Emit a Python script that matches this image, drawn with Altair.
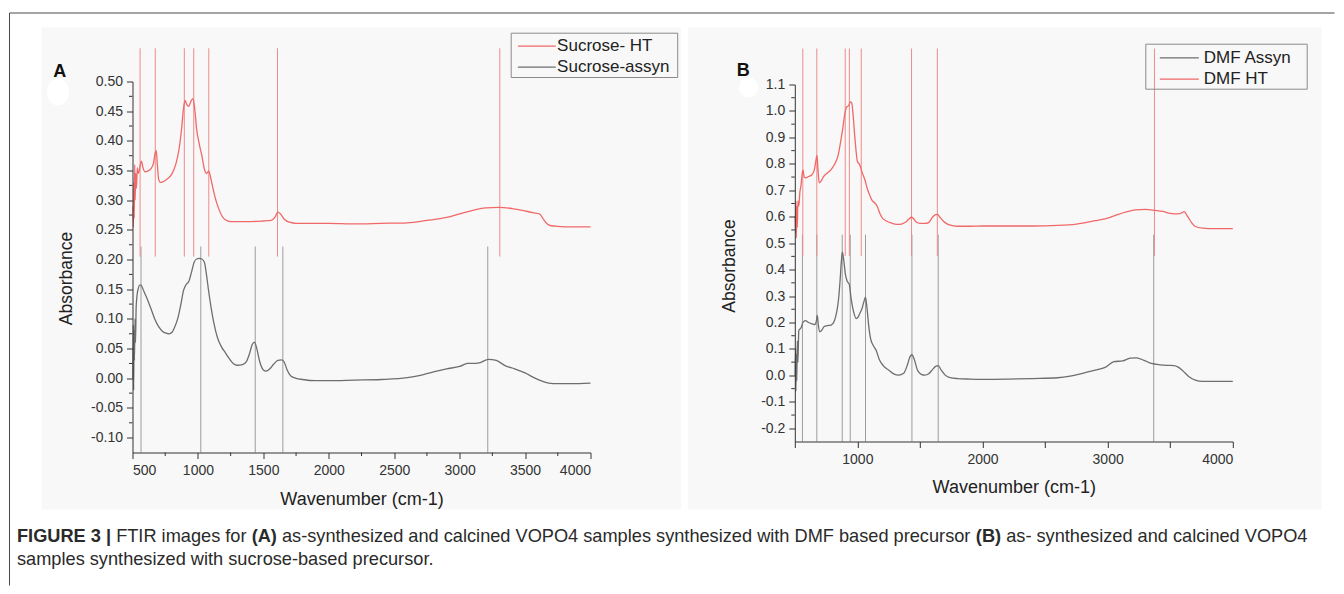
import altair as alt
import pandas as pd

FONT = "Liberation Sans"
RED_LINE = "#f06868"
RED_RULE = "#ef8a8a"
GRAY_LINE = "#6e6e6e"
GRAY_RULE = "#9c9c9c"
AXIS = "#333333"
BG = "#f8f8f8"

# ---------------- Panel A (sucrose) ----------------
a_ht_w = [503, 507, 510, 513, 517, 520, 525, 530, 537, 544, 552, 560, 568, 580, 595, 615, 640, 660, 672, 681,
          690, 700, 712, 730, 760, 800, 830, 855, 875, 890, 902, 915, 930, 945, 962, 975, 990, 1010, 1030, 1050,
          1065, 1083, 1100, 1120, 1140, 1160, 1185, 1210, 1250, 1300, 1400, 1500, 1560, 1590, 1610, 1630, 1660,
          1700, 1750, 1850, 2000, 2200, 2400, 2600, 2750, 2900, 3000, 3100, 3200, 3300, 3400, 3480, 3560, 3610,
          3640, 3670, 3700, 3750, 3850, 4000]
a_ht_y = [0.29, 0.255, 0.33, 0.27, 0.36, 0.30, 0.345, 0.32, 0.355, 0.345, 0.35, 0.36, 0.366, 0.355, 0.348, 0.349,
          0.353, 0.362, 0.378, 0.384, 0.36, 0.335, 0.330, 0.331, 0.335, 0.344, 0.36, 0.385, 0.42, 0.455, 0.468,
          0.461, 0.458, 0.466, 0.471, 0.455, 0.42, 0.395, 0.375, 0.352, 0.345, 0.349, 0.335, 0.315, 0.298, 0.285,
          0.273, 0.267, 0.264, 0.264, 0.264, 0.265, 0.266, 0.272, 0.28, 0.277, 0.268, 0.263, 0.261, 0.261, 0.261,
          0.260, 0.261, 0.262, 0.266, 0.271, 0.277, 0.283, 0.287, 0.288, 0.286, 0.283, 0.279, 0.277, 0.268, 0.26,
          0.257, 0.256, 0.255, 0.255]

a_as_w = [503, 506, 509, 512, 515, 519, 523, 528, 535, 545, 555, 565, 575, 590, 610, 640, 670, 700, 730, 760, 780,
          800, 820, 845, 870, 890, 910, 930, 950, 970, 990, 1010, 1030, 1050, 1065, 1080, 1100, 1120, 1150, 1180,
          1210, 1240, 1270, 1300, 1340, 1370, 1395, 1415, 1432, 1450, 1470, 1500, 1520, 1550, 1580, 1610, 1640,
          1660, 1680, 1710, 1750, 1800, 1900, 2000, 2200, 2400, 2600, 2700, 2800, 2900, 3000, 3060, 3100, 3150,
          3220, 3280, 3350, 3420, 3500, 3560, 3620, 3680, 3750, 3850, 4000]
a_as_y = [0.0, 0.09, -0.02, 0.08, 0.03, 0.1, 0.06, 0.12, 0.14, 0.152, 0.157, 0.157, 0.153, 0.145, 0.135, 0.118, 0.1,
          0.087, 0.079, 0.076, 0.075, 0.077, 0.085, 0.10, 0.125, 0.148, 0.158, 0.163, 0.178, 0.195, 0.201, 0.202,
          0.201, 0.195, 0.175, 0.15, 0.12, 0.095, 0.068, 0.053, 0.043, 0.033, 0.025, 0.022, 0.023, 0.028, 0.042,
          0.057, 0.061, 0.05, 0.03, 0.014, 0.012, 0.016, 0.024, 0.03, 0.031, 0.027, 0.015, 0.004, 0.0, -0.002,
          -0.004, -0.004, -0.003, -0.002, 0.001, 0.005, 0.011, 0.016, 0.02, 0.025, 0.025, 0.026, 0.032, 0.03,
          0.021, 0.016, 0.009, 0.002, -0.004, -0.008, -0.009, -0.009, -0.008]

a_red_peaks = [558, 674, 896, 968, 1083, 1608, 3307]
a_gray_peaks = [565, 1022, 1438, 1649, 3215]

a_xticks = [500, 1000, 1500, 2000, 2500, 3000, 3500, 4000]
a_xminor = [750, 1250, 1750, 2250, 2750, 3250, 3750]
a_yticks = [-0.10, -0.05, 0.00, 0.05, 0.10, 0.15, 0.20, 0.25, 0.30, 0.35, 0.40, 0.45, 0.50]
a_yminor = [-0.075, -0.025, 0.025, 0.075, 0.125, 0.175, 0.225, 0.275, 0.325, 0.375, 0.425, 0.475]
a_series = ["Sucrose- HT", "Sucrose-assyn"]

# ---------------- Panel B (DMF) ----------------
b_as_w = [503, 506, 509, 512, 516, 520, 525, 532, 540, 550, 565, 585, 610, 640, 660, 672, 680, 688, 700, 715, 735,
          760, 790, 815, 835, 850, 862, 872, 880, 890, 905, 920, 935, 950, 970, 990, 1005, 1020, 1035, 1050, 1065,
          1078, 1090, 1105, 1125, 1150, 1175, 1210, 1250, 1290, 1330, 1370, 1400, 1420, 1436, 1455, 1480, 1510,
          1540, 1570, 1600, 1625, 1646, 1670, 1700, 1740, 1800, 1900, 2000, 2200, 2400, 2600, 2700, 2800, 2900,
          2980, 3050, 3120, 3180, 3230, 3290, 3350, 3420, 3480, 3530, 3560, 3600, 3650, 3700, 3760, 3850, 4000]
b_as_y = [0.0, 0.1, -0.06, 0.08, -0.02, 0.13, 0.05, 0.17, 0.175, 0.18, 0.2, 0.207, 0.2, 0.195, 0.192, 0.205, 0.227,
          0.19, 0.165, 0.17, 0.185, 0.188, 0.19, 0.205, 0.24, 0.29, 0.36, 0.43, 0.466, 0.44, 0.38, 0.355, 0.345,
          0.29, 0.24, 0.215, 0.22, 0.235, 0.25, 0.275, 0.296, 0.25, 0.19, 0.14, 0.115, 0.095, 0.06, 0.035, 0.02,
          0.006, 0.001, 0.008, 0.04, 0.07, 0.078, 0.06, 0.02, 0.004, 0.001, 0.006, 0.022, 0.034, 0.037, 0.02,
          0.002, -0.008, -0.012, -0.014, -0.015, -0.014, -0.012, -0.009, -0.003, 0.008, 0.02, 0.03, 0.052, 0.055,
          0.065, 0.066, 0.057, 0.045, 0.04, 0.038, 0.037, 0.032, 0.018, -0.005, -0.018, -0.023, -0.023, -0.023]

b_ht_w = [503, 506, 509, 512, 516, 520, 525, 532, 540, 550, 560, 566, 575, 590, 610, 635, 655, 668, 677, 685, 695,
          710, 730, 760, 790, 820, 845, 865, 885, 900, 915, 930, 945, 955, 965, 980, 1000, 1020, 1040, 1060, 1080,
          1100, 1120, 1140, 1160, 1180, 1200, 1225, 1260, 1300, 1340, 1380, 1410, 1432, 1450, 1470, 1500, 1540,
          1570, 1600, 1625, 1641, 1660, 1690, 1720, 1760, 1800, 1900, 2000, 2200, 2400, 2600, 2750, 2900, 3000,
          3080, 3150, 3220, 3300, 3380, 3440, 3500, 3560, 3590, 3610, 3640, 3670, 3700, 3760, 3850, 4000]
b_ht_y = [0.6, 0.54, 0.66, 0.52, 0.64, 0.56, 0.66, 0.64, 0.69, 0.72, 0.765, 0.776, 0.75, 0.747, 0.752, 0.758, 0.775,
          0.81, 0.832, 0.78, 0.728, 0.735, 0.752, 0.765, 0.778, 0.8, 0.83, 0.88, 0.94, 0.99, 1.015, 1.02, 1.034,
          1.03, 0.99, 0.9, 0.81, 0.795, 0.765, 0.74, 0.705, 0.68, 0.66, 0.652, 0.638, 0.612, 0.595, 0.586, 0.578,
          0.572, 0.571, 0.578, 0.59, 0.598, 0.592, 0.58, 0.575, 0.575, 0.578, 0.598, 0.608, 0.609, 0.598, 0.582,
          0.572, 0.566, 0.564, 0.564, 0.565, 0.565, 0.565, 0.567, 0.572, 0.585, 0.595, 0.608, 0.618, 0.626, 0.628,
          0.624, 0.62, 0.613, 0.611, 0.614, 0.619, 0.6, 0.578, 0.563, 0.557, 0.555, 0.555]

b_red_peaks = [564, 676, 903, 936, 1031, 1433, 1639, 3374]
b_gray_peaks = [561, 676, 879, 943, 1065, 1436, 1646, 3368]

b_xticks = [500, 1000, 1500, 2000, 2500, 3000, 3500, 4000]
b_yticks = [-0.2, -0.1, 0.0, 0.1, 0.2, 0.3, 0.4, 0.5, 0.6, 0.7, 0.8, 0.9, 1.0, 1.1]
b_yminor = [-0.15, -0.05, 0.05, 0.15, 0.25, 0.35, 0.45, 0.55, 0.65, 0.75, 0.85, 0.95, 1.05]
b_series = ["DMF Assyn", "DMF HT"]

x_title = "Wavenumber (cm-1)"
y_title = "Absorbance"

caption_line1 = [("FIGURE 3 |", True), (" FTIR images for ", False), ("(A)", True),
                 (" as-synthesized and calcined VOPO4 samples synthesized with DMF based precursor ", False),
                 ("(B)", True), (" as- synthesized and calcined VOPO4", False)]
caption_line2 = "samples synthesized with sucrose-based precursor."

# Arial / Liberation Sans advance widths (1/1000 em) used to place the mixed-weight caption runs
W_REG = dict(zip("abcdefghijklmnopqrstuvwxyz",
                 [556, 556, 500, 556, 556, 278, 556, 556, 222, 222, 500, 222, 833, 556, 556, 556, 556, 333, 500,
                  278, 556, 500, 722, 500, 500, 500]))
W_REG.update(dict(zip("ABCDEFGHIJKLMNOPQRSTUVWXYZ",
                      [667, 667, 722, 722, 667, 611, 778, 722, 278, 500, 667, 556, 833, 722, 778, 667, 778, 722,
                       667, 611, 722, 667, 944, 667, 667, 611])))
W_REG.update({" ": 278, "-": 333, ".": 278, ",": 278, "(": 333, ")": 333, "|": 260})
W_REG.update({d: 556 for d in "0123456789"})
W_BOLD = {"F": 611, "I": 278, "G": 778, "U": 722, "R": 722, "E": 667, " ": 278, "3": 556, "|": 280,
          "(": 333, ")": 333, "A": 722, "B": 722}

CAP_SIZE = 18.2


def text_width(s, bold, size):
    table = W_BOLD if bold else W_REG
    return sum(table.get(c, 556) for c in s) * size / 1000.0


def one():
    return pd.DataFrame({"k": [0]})


def hyphen_expr(fmt):
    return "(datum.value < -0.0001 ? '-' : '') + format(abs(datum.value), '" + fmt + "')"


def txt(text, x, y, size, weight="normal", align="left", baseline="alphabetic", color="#222222"):
    return alt.Chart(one()).mark_text(text=text, font=FONT, fontSize=size, fontWeight=weight, align=align,
                                      baseline=baseline, color=color).encode(x=alt.value(x), y=alt.value(y))


def vrules(peaks, lo, hi, color, xs, ys, xaxis, yaxis):
    df = pd.DataFrame({"w": peaks, "lo": lo, "hi": hi})
    return alt.Chart(df).mark_rule(color=color, strokeWidth=1).encode(
        x=alt.X("w:Q", scale=xs, axis=xaxis),
        y=alt.Y("hi:Q", scale=ys, axis=yaxis),
        y2="lo:Q")


def curve(w, a, color, xs, ys, xaxis, yaxis):
    df = pd.DataFrame({"w": w, "a": a})
    return alt.Chart(df).mark_line(color=color, strokeWidth=1.3, interpolate="monotone").encode(
        x=alt.X("w:Q", scale=xs, axis=xaxis), y=alt.Y("a:Q", scale=ys, axis=yaxis))


def legend(box, rows, line_x, text_x, size):
    x1, y1, x2, y2 = box
    layers = [alt.Chart(one()).mark_rect(fill="transparent", stroke="#8a8a8a", strokeWidth=1).encode(
        x=alt.value(x1), x2=alt.value(x2), y=alt.value(y1), y2=alt.value(y2))]
    for label, color, y in rows:
        layers.append(alt.Chart(one()).mark_rule(color=color, strokeWidth=1.3).encode(
            x=alt.value(line_x[0]), x2=alt.value(line_x[1]), y=alt.value(y)))
        layers.append(txt(label, text_x, y, size, baseline="middle"))
    return layers


def blob(x, y, size, rx):
    path = "M0,-1A%.2f,1,0,1,1,0,1A%.2f,1,0,1,1,0,-1Z" % (rx, rx)
    return alt.Chart(one()).mark_point(shape=path, filled=True, color="white", opacity=1, size=size).encode(
        x=alt.value(x), y=alt.value(y))


def axes(xvals, xlabel, yvals, ylabel, title_x, title_y, xtitle_y):
    xa = alt.Axis(values=xvals, labelExpr=xlabel, title=x_title, tickSize=6, labelPadding=5, grid=False,
                  titleY=xtitle_y, titleBaseline="alphabetic", titleFontSize=18, labelFontSize=14, zindex=2)
    ya = alt.Axis(values=yvals, labelExpr=ylabel, title=y_title, tickSize=6, labelPadding=4, grid=False,
                  titleX=title_x, titleY=title_y, titleBaseline="alphabetic", titleAlign="center",
                  titleFontSize=17.5, labelFontSize=14, zindex=2)
    return xa, ya


# ---------------- build panel A ----------------
WA, HA = 458, 371
xsA = alt.Scale(domain=[500, 4000], nice=False, zero=False)
ysA = alt.Scale(domain=[-0.125, 0.5], range=[HA, 0], nice=False, zero=False)
xaxisA, yaxisA = axes(a_xticks, "format(datum.value, 'd')", a_yticks, hyphen_expr(".2f"), -61, 196.5, 52)

capA = []
cx = -115.5
for seg, bold in caption_line1:
    lead = len(seg) - len(seg.lstrip(" "))
    start = cx + text_width(seg[:lead], bold, CAP_SIZE)
    capA.append(txt(seg.strip(" "), start, 460, CAP_SIZE, weight="bold" if bold else "normal", color="#2a2a2a"))
    cx += text_width(seg, bold, CAP_SIZE)
capA.append(txt(caption_line2, -115.5, 483, CAP_SIZE, color="#2a2a2a"))

panelA = alt.layer(
    alt.Chart(one()).mark_rect(color=BG).encode(x=alt.value(-91), x2=alt.value(548.5), y=alt.value(-54),
                                               y2=alt.value(428)),
    alt.Chart(one()).mark_rule(color="#4a4a4a", strokeWidth=1).encode(x=alt.value(-123), y=alt.value(-68.5),
                                                                     y2=alt.value(504)),
    alt.Chart(one()).mark_rule(color="#4a4a4a", strokeWidth=1).encode(x=alt.value(-123), x2=alt.value(1202),
                                                                     y=alt.value(-68.5)),
    blob(-74.5, 10.5, 729, 0.81),
    txt("A", -72.7, -5, 18, weight="bold", align="center", color="#111111"),
    vrules(a_gray_peaks, -0.125, 0.222, GRAY_RULE, xsA, ysA, xaxisA, yaxisA),
    vrules(a_red_peaks, 0.205, 0.556, RED_RULE, xsA, ysA, xaxisA, yaxisA),
    curve(a_as_w, a_as_y, GRAY_LINE, xsA, ysA, xaxisA, yaxisA),
    curve(a_ht_w, a_ht_y, RED_LINE, xsA, ysA, xaxisA, yaxisA),
    alt.Chart(pd.DataFrame({"v": a_yminor})).mark_rule(color=AXIS, strokeWidth=1).encode(
        y=alt.Y("v:Q", scale=ysA, axis=yaxisA), x=alt.value(-3.5), x2=alt.value(0)),
    alt.Chart(pd.DataFrame({"v": a_xminor})).mark_rule(color=AXIS, strokeWidth=1).encode(
        x=alt.X("v:Q", scale=xsA, axis=xaxisA), y=alt.value(HA), y2=alt.value(HA + 3.5)),
    *legend((378.7, -48.3, 545.2, -4), [(a_series[0], RED_LINE, -35.3), (a_series[1], GRAY_LINE, -14.3)],
            (385.4, 423.3), 424.6, 17),
    *capA,
).properties(width=WA, height=HA)

# ---------------- build panel B ----------------
WB, HB = 438, 360
xsB = alt.Scale(domain=[500, 4000], nice=False, zero=False)
ysB = alt.Scale(domain=[-0.25, 1.1], range=[HB, 3], nice=False, zero=False)
xaxisB, yaxisB = axes(b_xticks, "datum.value % 1000 === 0 ? format(datum.value, 'd') : ''",
                      b_yticks, hyphen_expr(".1f"), -60.6, 184, 51)

panelB = alt.layer(
    alt.Chart(one()).mark_rect(color=BG).encode(x=alt.value(-106.8), x2=alt.value(526.8), y=alt.value(-54),
                                               y2=alt.value(428)),
    blob(-46.3, 6, 400, 0.95),
    txt("B", -51.5, -5.7, 18, weight="bold", align="center", color="#111111"),
    vrules(b_gray_peaks, -0.25, 0.532, GRAY_RULE, xsB, ysB, xaxisB, yaxisB),
    vrules(b_red_peaks, 0.452, 1.236, RED_RULE, xsB, ysB, xaxisB, yaxisB),
    curve(b_ht_w, b_ht_y, RED_LINE, xsB, ysB, xaxisB, yaxisB),
    curve(b_as_w, b_as_y, GRAY_LINE, xsB, ysB, xaxisB, yaxisB),
    alt.Chart(pd.DataFrame({"v": b_yminor})).mark_rule(color=AXIS, strokeWidth=1).encode(
        y=alt.Y("v:Q", scale=ysB, axis=yaxisB), x=alt.value(-3.5), x2=alt.value(0)),
    *legend((351, -37.3, 512.4, 7.7), [(b_series[0], GRAY_LINE, -23.7), (b_series[1], RED_LINE, -2.3)],
            (365, 404), 409, 17),
).properties(width=WB, height=HB)

chart = alt.hconcat(panelA, panelB, spacing=204.3, bounds="flush").resolve_scale(
    x="independent", y="independent"
).properties(
    padding={"left": 0.5, "top": 3.5, "right": 0, "bottom": 0},
    background="white",
).configure_view(stroke="transparent").configure_axis(
    domainColor=AXIS, tickColor=AXIS, labelColor=AXIS, titleColor="#222222",
    labelFont=FONT, titleFont=FONT, titleFontWeight="normal", domainWidth=1, tickWidth=1,
)

chart.save("out.html", embed_options={"renderer": "svg", "actions": False})
